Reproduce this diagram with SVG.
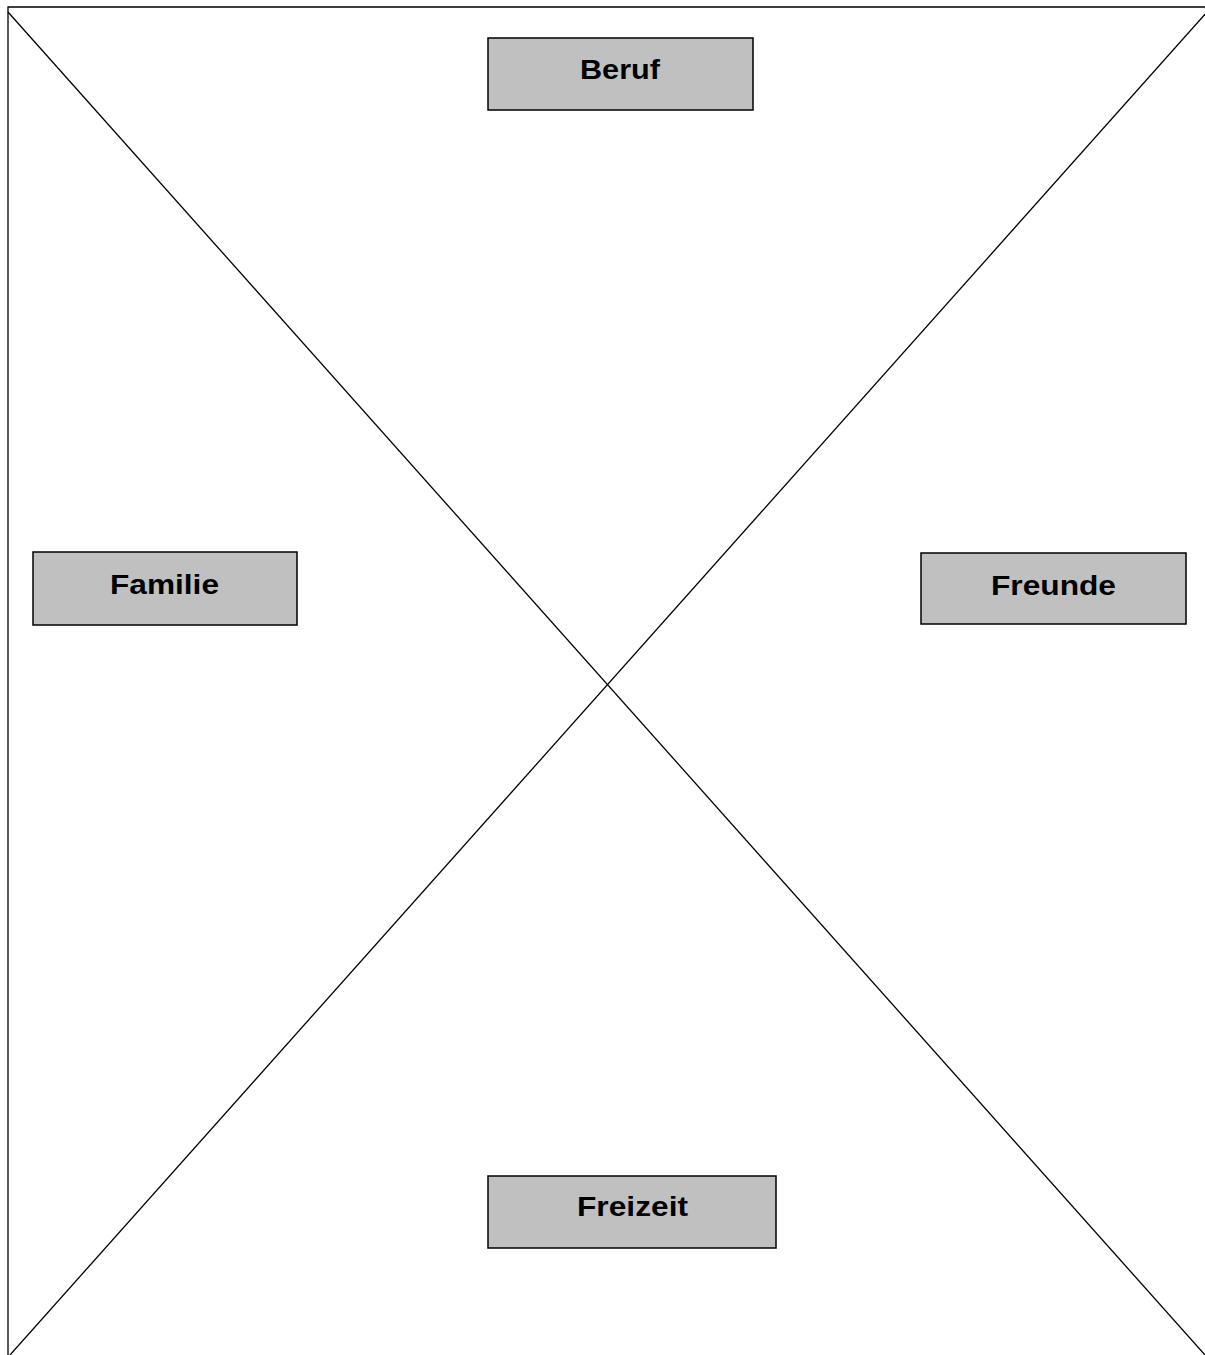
<svg xmlns="http://www.w3.org/2000/svg" width="1205" height="1355" viewBox="0 0 1205 1355">
<style>
.box{fill:#c0c0c0;stroke:#000;stroke-width:1.5}
.lbl{font-family:"Liberation Sans",Arial,sans-serif;font-weight:bold;font-size:28px;fill:#000;text-anchor:middle}
.ln{stroke:#000;stroke-width:1.3;fill:none}
</style>
<rect width="1205" height="1355" fill="#fff"/>
<g id="connectors">
<polyline class="ln" points="8,1355 8,7 1205,7"/>
<line class="ln" x1="8" y1="12" x2="1205" y2="1355"/>
<line class="ln" x1="1207" y1="12" x2="10" y2="1355"/>
</g>
<g id="beruf"><rect class="box" x="488" y="38" width="265" height="72"/><text class="lbl" x="620" y="79" textLength="80" lengthAdjust="spacingAndGlyphs">Beruf</text></g>
<g id="familie"><rect class="box" x="33" y="552" width="264" height="73"/><text class="lbl" x="164.5" y="594" textLength="109" lengthAdjust="spacingAndGlyphs">Familie</text></g>
<g id="freunde"><rect class="box" x="921" y="553" width="265" height="71"/><text class="lbl" x="1053.5" y="595" textLength="125" lengthAdjust="spacingAndGlyphs">Freunde</text></g>
<g id="freizeit"><rect class="box" x="488" y="1176" width="288" height="72"/><text class="lbl" x="632.5" y="1216" textLength="111" lengthAdjust="spacingAndGlyphs">Freizeit</text></g>
</svg>
